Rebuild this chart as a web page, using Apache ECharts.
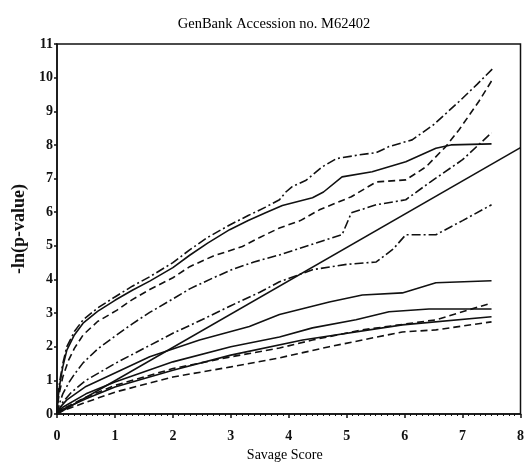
<!DOCTYPE html>
<html>
<head>
<meta charset="utf-8">
<script src="https://cdn.jsdelivr.net/npm/echarts@6/dist/echarts.min.js"></script>
<style>html,body{margin:0;padding:0;background:#fff}#c{width:527px;height:474px}</style>
</head>
<body>
<div id="c"></div>
<script>
var titleText = "GenBank Accession no. M62402";
var xName = "Savage Score";
var yName = "-ln(p-value)";
var xTicks = [0,1,2,3,4,5,6,7,8];
var yTicks = [0,1,2,3,4,5,6,7,8,9,10,11];

var refLine = [[0,0],[8,7.92]];
var curveA = [[0,0],[0.02,0.6],[0.05,1.0],[0.1,1.5],[0.17,2.0],[0.3,2.45],[0.45,2.8],[0.7,3.15],[1,3.48],[1.3,3.8],[1.6,4.08],[2,4.5],[2.29,4.88],[2.6,5.25],[2.98,5.62],[3.3,5.9],[3.6,6.15],[3.84,6.37],[3.95,6.6],[4.06,6.76],[4.3,6.95],[4.58,7.35],[4.82,7.59],[5.2,7.7],[5.51,7.77],[5.73,7.95],[6.13,8.15],[6.5,8.6],[6.94,9.29],[7.25,9.8],[7.54,10.3]];
var curveB = [[0,0],[0.02,0.5],[0.05,0.9],[0.1,1.4],[0.17,1.9],[0.3,2.35],[0.45,2.7],[0.7,3.05],[1,3.38],[1.3,3.68],[1.6,3.95],[2,4.35],[2.29,4.72],[2.6,5.08],[2.98,5.48],[3.3,5.75],[3.6,5.98],[3.89,6.2],[4.41,6.43],[4.6,6.6],[4.92,7.05],[5.44,7.2],[6.02,7.5],[6.54,7.9],[6.8,8.0],[7.5,8.03]];
var curveC = [[0,0],[0.02,0.4],[0.05,0.7],[0.1,1.1],[0.2,1.6],[0.3,1.95],[0.45,2.35],[0.7,2.75],[1.03,3.08],[1.3,3.4],[1.6,3.7],[2,4.05],[2.29,4.38],[2.7,4.7],[3.2,4.98],[3.5,5.25],[3.84,5.53],[4.2,5.75],[4.53,6.07],[5.08,6.46],[5.51,6.9],[6.02,6.96],[6.37,7.35],[6.71,7.95],[6.94,8.45],[7.28,9.29],[7.5,9.9]];
var curveD = [[0,0],[0.05,0.35],[0.1,0.6],[0.2,0.92],[0.3,1.18],[0.45,1.52],[0.7,1.93],[1.03,2.35],[1.3,2.68],[1.6,3.02],[2,3.42],[2.29,3.72],[2.7,4.05],[3.03,4.3],[3.4,4.52],[3.84,4.73],[4.5,5.1],[4.92,5.33],[5.08,5.98],[5.51,6.22],[6.02,6.37],[6.42,6.87],[7.0,7.56],[7.5,8.36]];
var curveE = [[0,0],[0.1,0.35],[0.25,0.65],[0.5,1.0],[1,1.5],[1.5,1.95],[2,2.4],[2.5,2.8],[3,3.22],[3.5,3.62],[3.84,3.93],[4.41,4.29],[5.0,4.45],[5.51,4.52],[5.8,4.9],[6.02,5.33],[6.54,5.33],[7.0,5.75],[7.5,6.22]];
var curveF = [[0,0],[0.08,0.25],[0.17,0.42],[0.5,0.82],[1,1.22],[1.6,1.7],[2.46,2.2],[3.32,2.6],[3.84,2.96],[4.7,3.33],[5.27,3.54],[5.96,3.6],[6.54,3.9],[7.5,3.96]];
var curveG = [[0,0],[0.1,0.2],[0.5,0.6],[1,0.95],[2,1.55],[3,2.0],[3.84,2.29],[4.41,2.56],[5.16,2.8],[5.73,3.04],[6.42,3.12],[7.5,3.12]];
var curveH = [[0,0],[0.1,0.15],[0.5,0.5],[1,0.85],[2,1.35],[3,1.7],[3.84,1.96],[4.41,2.2],[5.27,2.5],[6.54,2.8],[7.5,3.3]];
var curveI = [[0,0],[0.1,0.14],[0.5,0.45],[1,0.8],[2,1.3],[3,1.75],[4.24,2.2],[5.96,2.65],[7.5,2.89]];
var curveJ = [[0,0],[0.1,0.1],[0.5,0.35],[1,0.65],[2,1.1],[3,1.4],[3.84,1.67],[4.7,2.0],[5.96,2.44],[6.54,2.5],[7.5,2.74]];

var dashDot = [9,3,2,3];
var dashed = [7,4];
function s(data, type){
  return {type:'line', data:data, showSymbol:false, smooth:false, silent:true,
    lineStyle:{color:'#111', width:1.6, type:type}};
}
var chart = echarts.init(document.getElementById('c'));
var serif = '"Liberation Serif", "DejaVu Serif", serif';
chart.setOption({
  animation:false,
  backgroundColor:'#fff',
  title:{text:titleText, left:269, top:12, textAlign:'center',
    textStyle:{fontFamily:serif, fontSize:14.5, fontWeight:'normal', color:'#000'}},
  grid:{left:57, right:5, top:44, bottom:60, show:true, borderColor:'#111', borderWidth:1.5, backgroundColor:'transparent'},
  xAxis:{type:'value', min:0, max:8, interval:1, name:xName, nameLocation:'middle', nameGap:33,
    nameTextStyle:{fontFamily:serif, fontSize:14, color:'#000', padding:[0,8,0,0]},
    axisLine:{lineStyle:{color:'#111', width:1.5}},
    axisTick:{show:true, length:4, lineStyle:{color:'#111', width:1.5}},
    minorTick:{show:true, splitNumber:10, length:2, lineStyle:{color:'#111', width:1}},
    axisLabel:{fontFamily:serif, fontSize:14, fontWeight:'bold', color:'#111', margin:15,
      formatter:function(v){return xTicks.indexOf(v)>=0?String(v):'';}},
    splitLine:{show:false}},
  yAxis:{type:'value', min:0, max:11, interval:1, name:yName, nameLocation:'middle', nameGap:23,
    nameTextStyle:{fontFamily:serif, fontSize:18, fontWeight:'bold', color:'#111'},
    axisLine:{lineStyle:{color:'#111', width:1.5}},
    axisTick:{show:true, length:3, lineStyle:{color:'#111', width:1.5}},
    axisLabel:{fontFamily:serif, fontSize:14, fontWeight:'bold', color:'#111', margin:4,
      formatter:function(v){return yTicks.indexOf(v)>=0?String(v):'';}},
    splitLine:{show:false}},
  series:[
    s(refLine,'solid'),
    s(curveA,dashDot),
    s(curveB,'solid'),
    s(curveC,dashed),
    s(curveD,dashDot),
    s(curveE,dashDot),
    s(curveF,'solid'),
    s(curveG,'solid'),
    s(curveH,dashed),
    s(curveI,'solid'),
    s(curveJ,dashed)
  ]
});
</script>
</body>
</html>
